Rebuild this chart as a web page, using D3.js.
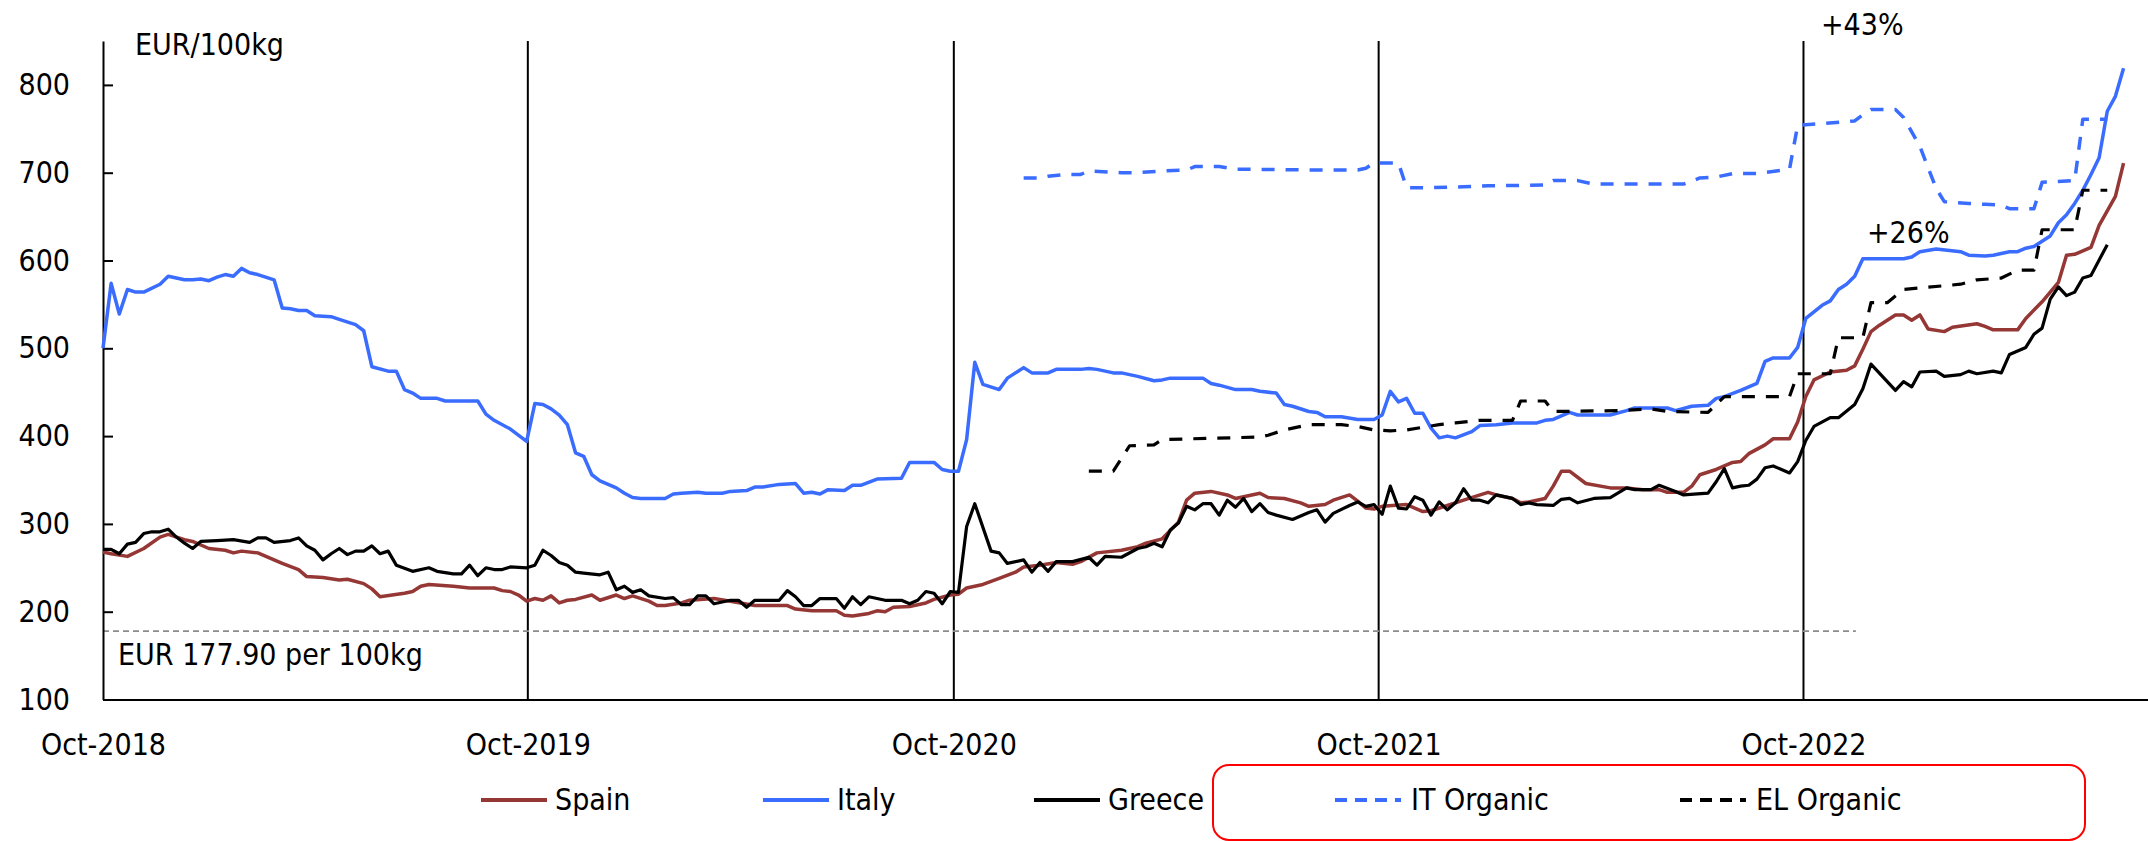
<!DOCTYPE html>
<html lang="en">
  <head>
    <meta charset="utf-8">
    <script src="https://d3js.org/d3.v7.min.js"></script>
    <style>
      body { margin: 0; background: #fff; }
      svg text { font-family: "DejaVu Sans Condensed", "DejaVu Sans", sans-serif; font-stretch: condensed; fill: #000; }
    </style>
  </head>
  <body>
    <div id="chart"></div>
    <script>
    // weekly prices, [weeks since 1 Oct 2018, EUR/100kg]
    var spain = [[0,268],[1,266],[3,263],[5,272],[7,285],[8,288],[10,282],[11,280],[13,272],[15,270],[16,267],[17,269],[19,267],[20,263],[22,255],[24,248],[25,240],[27,239],[29,236],[30,237],[32,232],[33,226],[34,217],[37,221],[38,223],[39,229],[40,231],[43,229],[45,227],[48,227],[49,224],[50,223],[51,219],[52,212],[53,215],[54,213],[55,218],[56,210],[57,213],[58,214],[60,219],[61,213],[63,219],[64,215],[65,218],[67,212],[68,207],[69,207],[71,210],[72,213],[75,215],[77,212],[80,207],[84,207],[85,203],[87,201],[90,201],[91,196],[92,195],[94,198],[95,201],[96,200],[97,205],[99,206],[101,210],[102,214],[104,219],[105,220],[106,227],[108,231],[110,238],[112,245],[113,251],[115,253],[117,256],[119,254],[120,257],[122,267],[125,270],[127,274],[128,278],[130,283],[132,302],[133,327],[134,335],[136,337],[138,333],[139,329],[142,335],[143,330],[145,329],[147,324],[148,320],[150,322],[151,327],[153,333],[154,326],[155,318],[156,317],[157,320],[160,322],[161,318],[162,314],[163,315],[165,321],[167,327],[170,336],[171,333],[173,329],[174,324],[175,325],[177,329],[178,343],[179,360],[180,360],[182,346],[185,341],[187,341],[189,339],[191,339],[192,336],[194,336],[195,343],[196,356],[198,362],[199,366],[200,370],[201,371],[202,380],[204,390],[205,397],[207,397],[208,416],[209,445],[210,464],[212,473],[214,475],[215,480],[216,499],[217,519],[218,526],[220,538],[221,538],[222,532],[223,538],[224,522],[226,519],[227,524],[230,528],[231,525],[232,521],[235,521],[236,534],[238,553],[240,575],[241,606],[242,607],[244,615],[245,640],[247,673],[248,711]];

    var italy = [[0,500],[1,574],[2,539],[3,567],[4,564],[5,564],[7,573],[8,582],[10,578],[11,578],[12,579],[13,577],[14,581],[15,584],[16,582],[17,591],[18,586],[19,584],[21,578],[22,546],[23,545],[24,543],[25,543],[26,537],[28,536],[29,533],[31,527],[32,520],[33,479],[35,474],[36,474],[37,453],[38,449],[39,443],[41,443],[42,440],[46,440],[47,425],[48,418],[50,408],[52,394],[53,437],[54,436],[55,431],[56,424],[57,413],[58,381],[59,377],[60,356],[61,349],[62,345],[63,341],[64,335],[65,330],[66,329],[69,329],[70,334],[71,335],[73,336],[74,335],[76,335],[77,337],[79,338],[80,342],[81,342],[83,345],[85,346],[86,335],[87,336],[88,334],[89,339],[91,338],[92,344],[93,344],[95,351],[98,352],[99,370],[102,370],[103,362],[104,360],[105,360],[106,396],[107,484],[108,459],[110,453],[111,466],[113,478],[114,472],[116,472],[117,476],[120,476],[121,477],[122,476],[124,472],[125,472],[127,468],[129,463],[130,464],[131,466],[135,466],[136,460],[137,458],[139,453],[141,453],[142,451],[144,449],[145,436],[146,434],[148,428],[149,427],[150,422],[152,422],[154,419],[156,419],[157,424],[158,451],[159,439],[160,443],[161,426],[162,426],[163,409],[164,398],[165,400],[166,398],[168,405],[169,412],[171,413],[173,415],[176,415],[177,418],[178,419],[180,427],[181,424],[185,424],[187,429],[188,432],[192,432],[193,429],[195,434],[197,435],[198,443],[199,445],[201,452],[203,460],[204,485],[205,489],[207,489],[208,501],[209,534],[211,549],[212,554],[213,567],[214,573],[215,582],[216,602],[221,602],[222,604],[223,610],[225,613],[228,610],[229,606],[231,605],[232,606],[234,610],[235,610],[236,614],[237,616],[239,628],[240,643],[241,652],[242,665],[243,680],[244,698],[245,717],[246,770],[247,787],[248,819]];

    var greece = [[0,271],[1,271],[2,266],[3,277],[4,279],[5,289],[6,291],[7,291],[8,294],[9,285],[10,278],[11,272],[12,280],[14,281],[16,282],[18,279],[19,284],[20,284],[21,279],[23,281],[24,284],[25,275],[26,270],[27,259],[28,266],[29,272],[30,265],[31,269],[32,269],[33,275],[34,266],[35,269],[36,253],[38,246],[40,250],[41,246],[43,243],[44,243],[45,253],[46,241],[47,250],[48,248],[49,248],[50,251],[52,250],[53,253],[54,270],[55,264],[56,256],[57,253],[58,245],[59,244],[61,242],[62,245],[63,225],[64,229],[65,222],[66,225],[67,218],[69,215],[70,216],[71,208],[72,208],[73,218],[74,218],[75,209],[77,213],[78,213],[79,205],[80,213],[83,213],[84,224],[85,217],[86,207],[87,207],[88,215],[90,215],[91,204],[92,217],[93,208],[94,217],[96,213],[98,213],[99,209],[100,213],[101,223],[102,221],[103,209],[104,223],[105,222],[106,297],[107,323],[109,269],[110,267],[111,255],[113,259],[114,245],[115,256],[116,246],[117,257],[119,257],[121,262],[122,253],[123,263],[125,262],[127,272],[128,274],[129,278],[130,274],[131,293],[132,301],[133,320],[134,316],[135,323],[136,323],[137,310],[138,327],[139,319],[140,329],[141,314],[142,323],[143,313],[144,310],[146,305],[148,313],[149,316],[150,302],[151,312],[153,321],[154,325],[155,320],[156,322],[157,311],[158,343],[159,318],[160,317],[161,331],[162,327],[163,310],[164,325],[165,316],[166,324],[167,340],[168,327],[169,327],[170,324],[171,333],[172,331],[173,329],[174,322],[175,324],[176,322],[178,321],[179,328],[180,329],[181,324],[183,329],[185,330],[187,341],[188,339],[190,339],[191,344],[193,337],[194,333],[197,335],[198,348],[199,363],[200,341],[201,343],[202,344],[203,351],[204,364],[205,366],[207,358],[208,371],[209,395],[210,411],[212,421],[213,421],[215,436],[216,454],[217,482],[220,452],[221,462],[222,456],[223,473],[225,474],[226,468],[228,470],[229,474],[230,471],[232,474],[233,472],[234,493],[236,501],[237,516],[238,523],[239,556],[240,570],[241,560],[242,564],[243,580],[244,583],[246,618]];

    var itOrganic = [[113,694],[115,694],[116,696],[118,698],[120,698],[121,702],[125,700],[127,700],[130,702],[133,703],[134,707],[137,707],[139,704],[150,703],[154,703],[155,705],[156,711],[159,711],[160,683],[163,683],[167,684],[170,685],[177,686],[178,691],[181,691],[183,687],[194,687],[196,694],[198,695],[200,699],[203,699],[207,704],[208,754],[211,756],[215,759],[216,766],[217,772],[220,772],[221,763],[223,730],[225,682],[226,667],[229,665],[231,664],[233,663],[234,659],[237,659],[238,689],[242,691],[243,761],[246,761]];

    var elOrganic = [[121,360],[124,360],[126,389],[129,390],[130,396],[142,399],[143,401],[145,407],[148,413],[152,413],[154,411],[156,407],[158,406],[160,407],[164,413],[166,415],[169,418],[173,418],[174,440],[177,440],[178,428],[186,429],[190,431],[192,428],[197,427],[199,445],[207,445],[208,471],[212,471],[213,512],[216,512],[217,552],[219,552],[221,567],[228,573],[230,578],[233,580],[235,589],[237,589],[238,635],[242,635],[243,680],[246,680]];

    var yTicks = [100, 200, 300, 400, 500, 600, 700, 800];
    var yearLines = [2019, 2020, 2021, 2022];
    var xTickYears = [2018, 2019, 2020, 2021, 2022];
    var refValue = 177.90;

    var series = [
      {name: "Spain", data: spain, color: "#953735", dash: null, width: 3.5},
      {name: "Italy", data: italy, color: "#3a6cff", dash: null, width: 3.5},
      {name: "Greece", data: greece, color: "#000000", dash: null, width: 3.2},
      {name: "IT Organic", data: itOrganic, color: "#3a6cff", dash: "13,11", width: 3.5},
      {name: "EL Organic", data: elOrganic, color: "#000000", dash: "13,11", width: 3.2}
    ];

    var width = 2148, height = 841;
    var start = new Date(2018, 9, 1);
    function weekDate(w) { return d3.timeDay.offset(start, w * 7); }

    var svg = d3.select("#chart").append("svg")
      .attr("width", width)
      .attr("height", height);

    var x = d3.scaleTime()
      .domain([start, new Date(2023, 6, 24)])
      .range([103, 2148]);
    var y = d3.scaleLinear()
      .domain([100, 850])
      .range([699.5, 41]);

    // year separators
    svg.append("g").selectAll("line")
      .data(yearLines)
      .enter().append("line")
      .attr("x1", d => x(new Date(d, 9, 1)))
      .attr("x2", d => x(new Date(d, 9, 1)))
      .attr("y1", y(850))
      .attr("y2", y(100))
      .attr("stroke", "#000")
      .attr("stroke-width", 2);

    // reference price
    svg.append("line")
      .attr("x1", x(start))
      .attr("x2", x(new Date(2022, 10, 15)))
      .attr("y1", y(refValue))
      .attr("y2", y(refValue))
      .attr("stroke", "#8c8c8c")
      .attr("stroke-width", 1.6)
      .attr("stroke-dasharray", "6,4");
    svg.append("text")
      .attr("x", 118)
      .attr("y", 665)
      .style("font-size", "30px")
      .text("EUR 177.90 per 100kg");

    // axes
    var yAxis = svg.append("g")
      .attr("transform", "translate(" + x(start) + ",0)")
      .call(d3.axisLeft(y).tickValues(yTicks).tickSizeInner(-10).tickSizeOuter(0).tickPadding(33));
    var xAxis = svg.append("g")
      .attr("transform", "translate(0," + y(100) + ")")
      .call(d3.axisBottom(x)
        .tickValues(xTickYears.map(d => new Date(d, 9, 1)))
        .tickFormat(d3.timeFormat("Oct-%Y"))
        .tickSize(0).tickPadding(34));
    [yAxis, xAxis].forEach(function(g) {
      g.selectAll("path, line").attr("stroke", "#000").attr("stroke-width", 2);
      g.selectAll("text").style("font-size", "30px").attr("fill", "#000");
    });

    svg.append("text")
      .attr("x", 135)
      .attr("y", 55)
      .style("font-size", "30px")
      .text("EUR/100kg");

    // lines
    var line = d3.line()
      .x(d => x(weekDate(d[0])))
      .y(d => y(d[1]));
    svg.append("g").selectAll("path")
      .data(series)
      .enter().append("path")
      .attr("d", d => line(d.data))
      .attr("fill", "none")
      .attr("stroke", d => d.color)
      .attr("stroke-width", d => d.width)
      .attr("stroke-dasharray", d => d.dash)
      .attr("stroke-linejoin", "round");

    // annotations
    svg.append("text").attr("x", 1821).attr("y", 35).style("font-size", "30px").text("+43%");
    svg.append("text").attr("x", 1867).attr("y", 243).style("font-size", "30px").text("+26%");

    // legend
    svg.append("rect")
      .attr("x", 1213).attr("y", 765)
      .attr("width", 872).attr("height", 75)
      .attr("rx", 16)
      .attr("fill", "none")
      .attr("stroke", "#ff0000")
      .attr("stroke-width", 2);

    var legendX = [481, 763, 1034, 1335, 1680];
    var legend = svg.append("g").selectAll("g")
      .data(series)
      .enter().append("g")
      .attr("transform", (d, i) => "translate(" + legendX[i] + ",800)");
    legend.append("line")
      .attr("x1", 0).attr("x2", 66)
      .attr("y1", 0).attr("y2", 0)
      .attr("stroke", d => d.color)
      .attr("stroke-width", 4)
      .attr("stroke-dasharray", d => d.dash ? "12,8" : null);
    legend.append("text")
      .attr("x", d => d.dash ? 76 : 74)
      .attr("y", 10)
      .style("font-size", "30px")
      .text(d => d.name);
    </script>
  </body>
</html>
